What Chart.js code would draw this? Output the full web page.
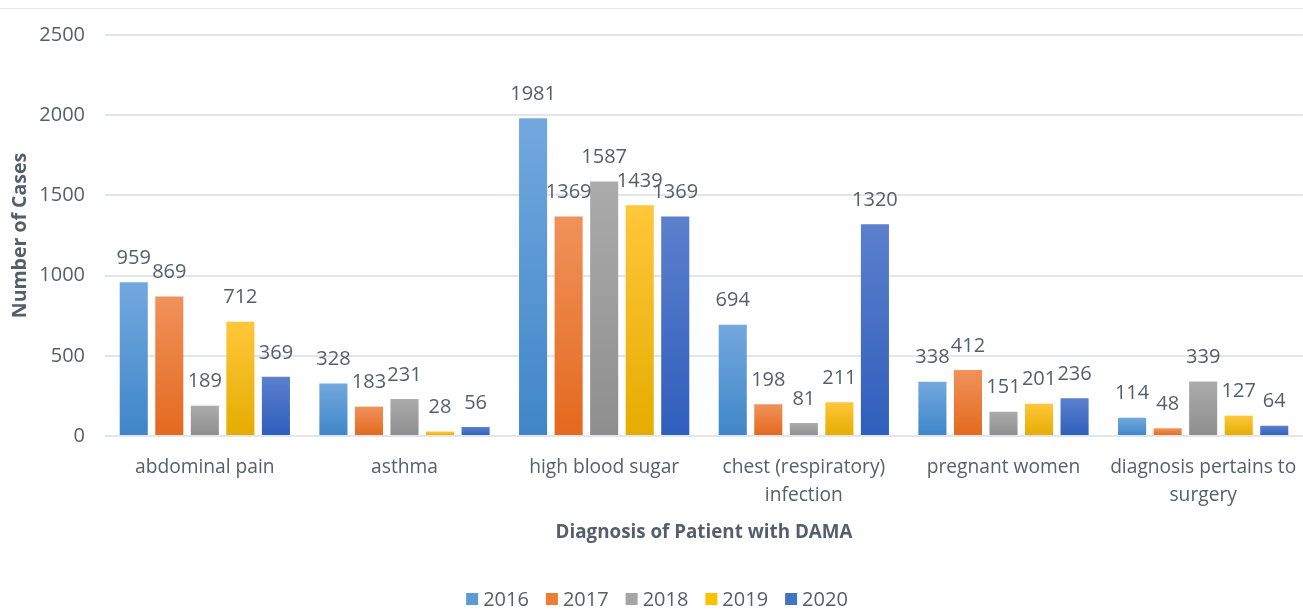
<!DOCTYPE html>
<html>
<head>
<meta charset="utf-8">
<script src="https://cdn.jsdelivr.net/npm/chart.js@4/dist/chart.umd.min.js"></script>
<style>
  html, body { margin: 0; padding: 0; background: #ffffff; }
  #wrap { width: 1303px; height: 615px; }
</style>
</head>
<body>
<div id="wrap"><canvas id="dama" width="1303" height="615"></canvas></div>
<script>
// categories on the x axis
let categories = [
      "abdominal pain",
      "asthma",
      "high blood sugar",
      ["chest (respiratory)", "infection"],
      "pregnant women",
      ["diagnosis pertains to", "surgery"]
];

let years = ["2016", "2017", "2018", "2019", "2020"];

// cases per year, same order as categories
let cases2016 = [959, 328, 1981, 694, 338, 114];
let cases2017 = [869, 183, 1369, 198, 412, 48];
let cases2018 = [189, 231, 1587, 81, 151, 339];
let cases2019 = [712, 28, 1439, 211, 201, 127];
let cases2020 = [369, 56, 1369, 1320, 236, 64];

let yTicks = [0, 500, 1000, 1500, 2000, 2500];

// [solid, top of bar, bottom of bar]
let palette = [
      ["#5b9bd5", "#72a8de", "#3f86c8"],
      ["#ed7d31", "#f0925b", "#e3691d"],
      ["#a5a5a5", "#ababab", "#8e8e8e"],
      ["#ffc000", "#ffc73a", "#e5ac00"],
      ["#4472c4", "#5b80cd", "#2f5ebd"]
];

let textColor = "#555e6b";
let fontFamily = "'Open Sans', Lato, sans-serif";

let barFill = (i) => (ctx) => {
      if (ctx.type !== "data") return palette[i][0];
      let chart = ctx.chart;
      let y = chart.scales.y;
      if (!chart.chartArea || !y) return palette[i][0];
      let top = y.getPixelForValue(ctx.raw);
      let bottom = y.getPixelForValue(0);
      if (bottom - top < 1) return palette[i][2];
      let g = chart.ctx.createLinearGradient(0, top, 0, bottom);
      g.addColorStop(0, palette[i][1]);
      g.addColorStop(1, palette[i][2]);
      return g;
};

// value labels above each bar
let valueLabels = {
      id: "valueLabels",
      afterDatasetsDraw(chart) {
            let ctx = chart.ctx;
            ctx.save();
            ctx.font = "20px " + fontFamily;
            ctx.fillStyle = textColor;
            ctx.textAlign = "center";
            ctx.textBaseline = "middle";
            chart.data.datasets.forEach((ds, di) => {
                  let meta = chart.getDatasetMeta(di);
                  meta.data.forEach((bar, i) => {
                        ctx.fillText(String(ds.data[i]), bar.x, bar.y - 24);
                  });
            });
            ctx.restore();
      }
};

// legend drawn by hand so the box/text spacing matches
let bottomLegend = {
      id: "bottomLegend",
      afterDraw(chart) {
            let ctx = chart.ctx;
            ctx.save();
            ctx.font = "20px " + fontFamily;
            ctx.textBaseline = "middle";
            ctx.textAlign = "left";
            let box = 12, gap = 5, between = 17;
            let widths = chart.data.datasets.map((ds) => ctx.measureText(ds.label).width);
            let total = widths.reduce((a, w) => a + box + gap + w, 0) + between * (widths.length - 1);
            let x = 657 - total / 2;
            let y = 599;
            chart.data.datasets.forEach((ds, i) => {
                  ctx.fillStyle = palette[i][0];
                  ctx.fillRect(x, y - box / 2, box, box);
                  ctx.fillStyle = textColor;
                  ctx.fillText(ds.label, x + box + gap, y + 1);
                  x += box + gap + widths[i] + between;
            });
            ctx.restore();
      }
};

// faint frame line along the top
let topRule = {
      id: "topRule",
      beforeDraw(chart) {
            let ctx = chart.ctx;
            ctx.save();
            ctx.strokeStyle = "#e8e8e8";
            ctx.lineWidth = 1;
            ctx.beginPath();
            ctx.moveTo(0, 8.5);
            ctx.lineTo(chart.width, 8.5);
            ctx.stroke();
            ctx.restore();
      }
};

let series = [cases2016, cases2017, cases2018, cases2019, cases2020];

let datasets = series.map((values, i) => ({
      label: years[i],
      data: values,
      backgroundColor: barFill(i),
      borderWidth: 0,
      categoryPercentage: 0.89,
      barPercentage: 0.79
}));

new Chart(document.getElementById("dama").getContext("2d"), {
      type: "bar",
      data: { labels: categories, datasets: datasets },
      plugins: [topRule, valueLabels, bottomLegend],
      options: {
            responsive: false,
            animation: false,
            layout: { padding: { left: 0, right: 0, top: 35, bottom: 60 } },
            plugins: {
                  legend: { display: false },
                  tooltip: { enabled: false }
            },
            scales: {
                  x: {
                        grid: { display: false, drawTicks: false },
                        border: { display: false },
                        ticks: {
                              color: textColor,
                              padding: 18,
                              maxRotation: 0,
                              autoSkip: false,
                              font: { family: fontFamily, size: 19.2, lineHeight: 1.45 }
                        },
                        title: {
                              display: true,
                              text: "Diagnosis of Patient with DAMA",
                              color: textColor,
                              font: { family: fontFamily, size: 18.8, weight: "bold", lineHeight: 1.2 },
                              padding: { top: 0, bottom: 11 }
                        },
                        afterFit: (scale) => {
                              scale.height = 119;
                              scale.paddingLeft = 0;
                              scale.paddingRight = 0;
                        }
                  },
                  y: {
                        min: 0,
                        max: 2500,
                        afterBuildTicks: (scale) => { scale.ticks = yTicks.map((v) => ({ value: v })); },
                        grid: { color: "#e1e5ec", lineWidth: 2, drawTicks: false },
                        border: { display: false },
                        ticks: {
                              color: textColor,
                              padding: 20,
                              callback: (v) => String(v),
                              font: { family: fontFamily, size: 20 }
                        },
                        title: {
                              display: true,
                              text: "Number of Cases",
                              color: textColor,
                              font: { family: fontFamily, size: 19.5, weight: "bold", lineHeight: 1.2 },
                              padding: { top: 9, bottom: 0 }
                        },
                        afterFit: (scale) => { scale.width = 105; }
                  }
            }
      }
});
</script>
</body>
</html>
